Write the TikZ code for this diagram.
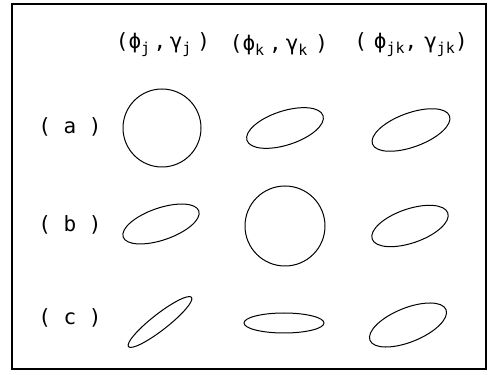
\documentclass[tikz,border=0pt]{standalone}
\usepackage{fontspec}
\setmonofont{DejaVu Sans Mono}
\usepackage{tikz}
\usetikzlibrary{positioning, calc}

\newcommand{\lo}[1]{\raisebox{-0.45ex}{\fontsize{15}{15}\selectfont #1}}

\begin{document}
\begin{tikzpicture}[
    x=1pt, y=1pt,
    every node/.style={font=\ttfamily\fontsize{21}{21}\selectfont, inner sep=0pt},
    curve/.style={draw, line width=1pt},
]
\useasboundingbox (0,0) rectangle (493,375);

% frame
\draw[line width=1.1pt] (12,371) rectangle (486,6);

\coordinate (cA1) at (162,247);
\coordinate (cA2) at (285,247);
\coordinate (cA3) at (411,245);
\coordinate (cB1) at (161,151);
\coordinate (cB2) at (285,149);
\coordinate (cB3) at (410,149);
\coordinate (cC1) at (160,53);
\coordinate (cC2) at (284,52);
\coordinate (cC3) at (408,50);

% column headings
\node (hdJ)  at (163,330) {(ϕ\lo{j}\,,\,γ\lo{j}\hspace{6pt})};
\node (hdK)  at (279,330) {(ϕ\lo{k}\hspace{5pt},\hspace{4pt}γ\lo{k}\hspace{8pt})};
\node (hdJK) at (411,330) {(\hspace{7pt}ϕ\lo{jk},\hspace{7pt}γ\lo{jk})};

% row labels
\node (labA) at (70,248) {( a )};
\node (labB) at (70,150) {( b )};
\node (labC) at (70,57)  {( c )};

% row (a)
\draw[curve] (cA1) circle (39pt);
\draw[curve] (cA2) ellipse [x radius=40pt, y radius=17pt, rotate=18];
\draw[curve] (cA3) ellipse [x radius=41pt, y radius=17pt, rotate=20];

% row (b)
\draw[curve] (cB1) ellipse [x radius=40pt, y radius=16pt, rotate=19];
\draw[curve] (cB2) circle (40pt);
\draw[curve] (cB3) ellipse [x radius=40pt, y radius=17pt, rotate=19];

% row (c)
\draw[curve] (cC1) ellipse [x radius=40pt, y radius=8pt, rotate=38];
\draw[curve] (cC2) ellipse [x radius=40pt, y radius=10pt];
\draw[curve] (cC3) ellipse [x radius=41pt, y radius=17pt, rotate=22];
\end{tikzpicture}
\end{document}
